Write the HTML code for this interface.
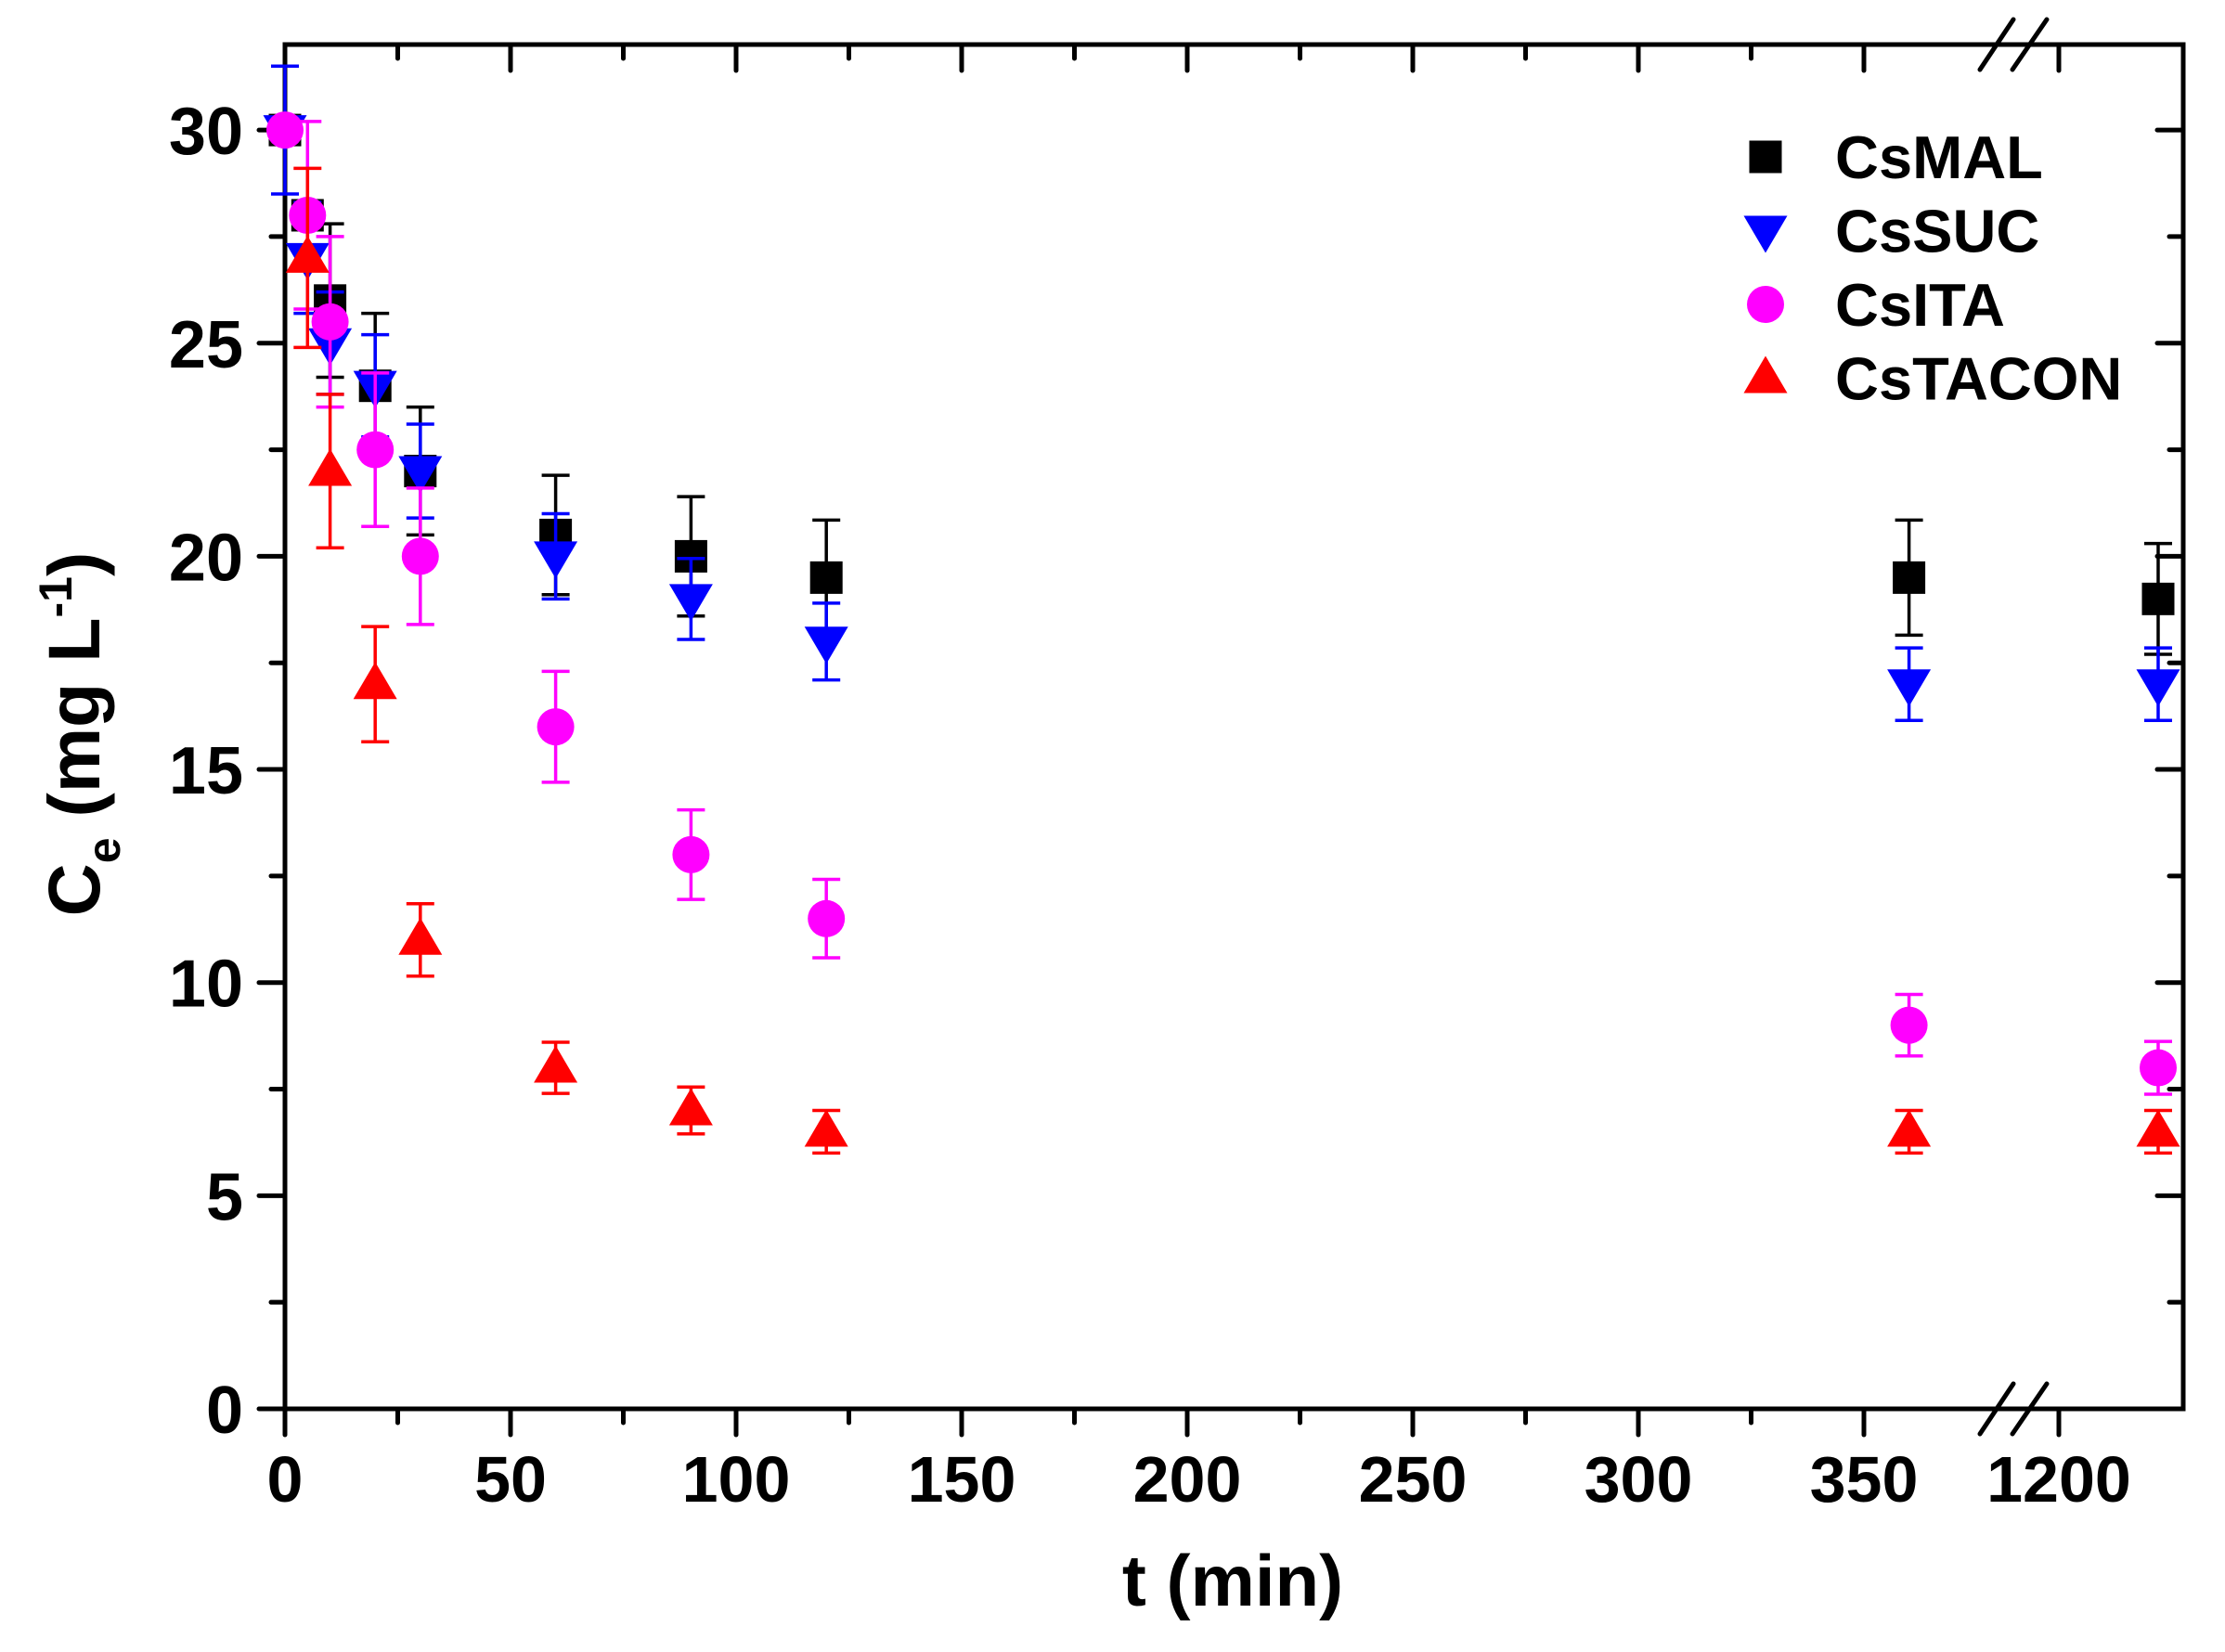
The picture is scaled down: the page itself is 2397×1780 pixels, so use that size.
<!DOCTYPE html>
<html><head><meta charset="utf-8"><style>
html,body{margin:0;padding:0;background:#fff;}
svg{display:block;}
text{font-family:"Liberation Sans",Arial,sans-serif;font-weight:bold;}
</style></head><body>
<svg id="s" width="2397" height="1780" viewBox="0 0 2397 1780" xmlns="http://www.w3.org/2000/svg"></svg>
<script>
const s=document.getElementById('s');
let h='';
const L=307,R=2352,T=48,B=1518;
const Y=v=>B-v*45.93;
const X=t=>t>1000?2218+(t-1200)*5.35:L+t*4.86;
const sw=5;
h+=`<line x1="${L}" y1="${T}" x2="${L}" y2="${B}" stroke="#000" stroke-width="${sw}"/>`;
h+=`<line x1="${R}" y1="${T-2.5}" x2="${R}" y2="${B+2.5}" stroke="#000" stroke-width="${sw}"/>`;
h+=`<line x1="${L-2.5}" y1="${T}" x2="${R}" y2="${T}" stroke="#000" stroke-width="${sw}"/>`;
h+=`<line x1="${L-2.5}" y1="${B}" x2="${R}" y2="${B}" stroke="#000" stroke-width="${sw}"/>`;
for(let v=0;v<=30;v+=2.5){const y=Y(v);const maj=v%5==0;const l=maj?28:15;
h+=`<line x1="${L}" y1="${y}" x2="${L-l}" y2="${y}" stroke="#000" stroke-width="${sw}" stroke-linecap="round"/>`;
h+=`<line x1="${R}" y1="${y}" x2="${R-l}" y2="${y}" stroke="#000" stroke-width="${sw}" stroke-linecap="round"/>`;
if(maj)h+=`<text x="262" y="${y+26}" font-size="72" text-anchor="end">${v}</text>`;}
for(let t=0;t<=350;t+=25){const x=X(t);const maj=t%50==0;const l=maj?28:15;
h+=`<line x1="${x}" y1="${B}" x2="${x}" y2="${B+l}" stroke="#000" stroke-width="${sw}" stroke-linecap="round"/>`;
h+=`<line x1="${x}" y1="${T}" x2="${x}" y2="${T+l}" stroke="#000" stroke-width="${sw}" stroke-linecap="round"/>`;
if(maj)h+=`<text x="${x}" y="1618" font-size="70" text-anchor="middle">${t}</text>`;}
{const x=2218;h+=`<line x1="${x}" y1="${B}" x2="${x}" y2="${B+28}" stroke="#000" stroke-width="${sw}" stroke-linecap="round"/><line x1="${x}" y1="${T}" x2="${x}" y2="${T+28}" stroke="#000" stroke-width="${sw}" stroke-linecap="round"/><text x="${x}" y="1618" font-size="70" text-anchor="middle">1200</text>`;}
for(const yy of [T,B]){
h+=`<line x1="2133" y1="${yy+27}" x2="2169" y2="${yy-27}" stroke="#000" stroke-width="${sw}" stroke-linecap="round"/><line x1="2168" y1="${yy+27}" x2="2205" y2="${yy-27}" stroke="#000" stroke-width="${sw}" stroke-linecap="round"/>`;}
h+=`<text x="1328" y="1730" font-size="78" text-anchor="middle">t (min)</text>`;
h+=`<text transform="translate(107,791) rotate(-90)" font-size="79" text-anchor="middle">C<tspan font-size="50" dy="22">e</tspan><tspan dy="-22"> (mg L</tspan><tspan font-size="50" dy="-30">-1</tspan><tspan dy="30">)</tspan></text>`;
const ts=[0,5,10,20,30,60,90,120,360,1220];
function mk(type,x,y,c){
 if(type=='s')return `<rect x="${x-17.5}" y="${y-17.5}" width="35" height="35" fill="${c}"/>`;
 if(type=='c')return `<circle cx="${x}" cy="${y}" r="20" fill="${c}"/>`;
 if(type=='d')return `<polygon points="${x-23.5},${y-16} ${x+23.5},${y-16} ${x},${y+24}" fill="${c}"/>`;
 return `<polygon points="${x-23.5},${y+16} ${x+23.5},${y+16} ${x},${y-24}" fill="${c}"/>`;}
const ser=[
 ['s','#000',[30,28,26,24,22,20.5,20,19.5,19.5,19],[0.3,0.3,1.8,1.7,1.5,1.4,1.4,1.35,1.35,1.3]],
 ['d','#00f',[30,27,25,24,22,20,19,18,17,17],[1.5,1.3,1.2,1.2,1.1,1,0.95,0.9,0.85,0.85]],
 ['c','#f0f',[30,28,25.5,22.5,20,16,13,11.5,9,8],[0.2,2.2,2,1.8,1.6,1.3,1.05,0.92,0.72,0.62]],
 ['t','#f00',[null,27,22,17,11,8,7,6.5,6.5,6.5],[0,2.1,1.8,1.35,0.85,0.6,0.55,0.5,0.5,0.5]]];
for(const [tp,c,v,e] of ser){v.forEach((vv,i)=>{if(vv==null)return;const x=X(ts[i]);
 const y1=Y(vv+e[i]),y2=Y(vv-e[i]);
 h+=`<line x1="${x}" y1="${y1}" x2="${x}" y2="${y2}" stroke="${c}" stroke-width="3.5"/><line x1="${x-15}" y1="${y1}" x2="${x+15}" y2="${y1}" stroke="${c}" stroke-width="3.5"/><line x1="${x-15}" y1="${y2}" x2="${x+15}" y2="${y2}" stroke="${c}" stroke-width="3.5"/>`;
 h+=mk(tp,x,Y(vv),c);});}
const lg=[['s','#000','CsMAL'],['d','#00f','CsSUC'],['c','#f0f','CsITA'],['t','#f00','CsTACON']];
lg.forEach((l,i)=>{const y=169+i*79.5;h+=mk(l[0],1902,y,l[1]);h+=`<text x="1977" y="${y+23}" font-size="65">${l[2]}</text>`;});
s.innerHTML=h;
</script>
</body></html>
